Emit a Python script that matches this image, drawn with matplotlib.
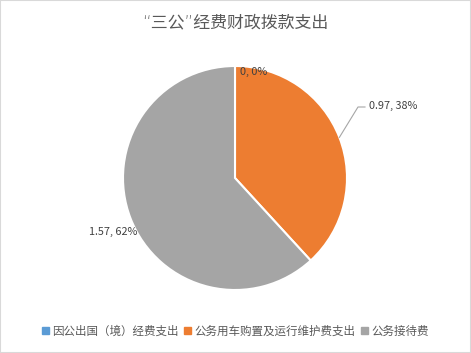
import numpy as np
import matplotlib.pyplot as plt
from matplotlib.patches import Rectangle

plt.rcParams['font.family'] = ['Noto Sans CJK SC', 'DejaVu Sans']

# data
categories = ['因公出国（境）经费支出', '公务用车购置及运行维护费支出', '公务接待费']
values = [0, 0.97, 1.57]
colors = ['#5B9BD5', '#ED7D31', '#A5A5A5']
title = '“三公”经费财政拨款支出'

W, H = 471, 353
fig = plt.figure(figsize=(W / 100, H / 100), dpi=100)
ax = fig.add_axes([0, 0, 1, 1])
ax.set_xlim(0, W)
ax.set_ylim(0, H)
ax.set_aspect('equal')
ax.axis('off')

# frame
fig.patches.append(Rectangle((0, 0), 1, 1, transform=fig.transFigure,
                             fill=False, edgecolor='#D9D9D9', lw=1.5))

cx, cy, r = 235, H - 178, 112
wedges, _ = ax.pie(values, colors=colors, startangle=90, counterclock=False,
                   center=(cx, cy), radius=r,
                   wedgeprops=dict(edgecolor='white', linewidth=1.5))
ax.set_xlim(0, W)
ax.set_ylim(0, H)

total = sum(values)
labels = ['%g, %d%%' % (v, round(v / total * 100)) for v in values]
tc = '#404040'
lf = 7.8

# label 0
ax.text(cx + 5, H - 72, labels[0], fontsize=lf, color=tc, ha='left', va='center')

# label 0.97 with leader line
ang = np.deg2rad(90 - values[1] / total * 360 / 2)
px, py = cx + r * np.cos(ang), cy + r * np.sin(ang)
ax.plot([px, 358, 365], [py, H - 107, H - 107], color='#A6A6A6', lw=0.8)
ax.text(369, H - 106, labels[1], fontsize=lf, color=tc, ha='left', va='center')

# label 1.57
ax.text(89, H - 232, labels[2], fontsize=lf, color=tc, ha='left', va='center')

fig.text(0.5, 1 - 22 / H, title, fontsize=12.2, color='#595959', ha='center', va='center',
         family=['DejaVu Sans', 'Noto Sans CJK SC'], fontweight='light')

handles = [Rectangle((0, 0), 1, 1, color=c) for c in colors]
fig.legend(handles, categories, loc='center', bbox_to_anchor=(0.5, 1 - 331 / H),
           ncol=3, frameon=False, fontsize=8.3, labelcolor='#595959',
           handlelength=0.6, handleheight=0.6, handletextpad=0.3, columnspacing=0.5)

fig.savefig('out.png', dpi=100)
